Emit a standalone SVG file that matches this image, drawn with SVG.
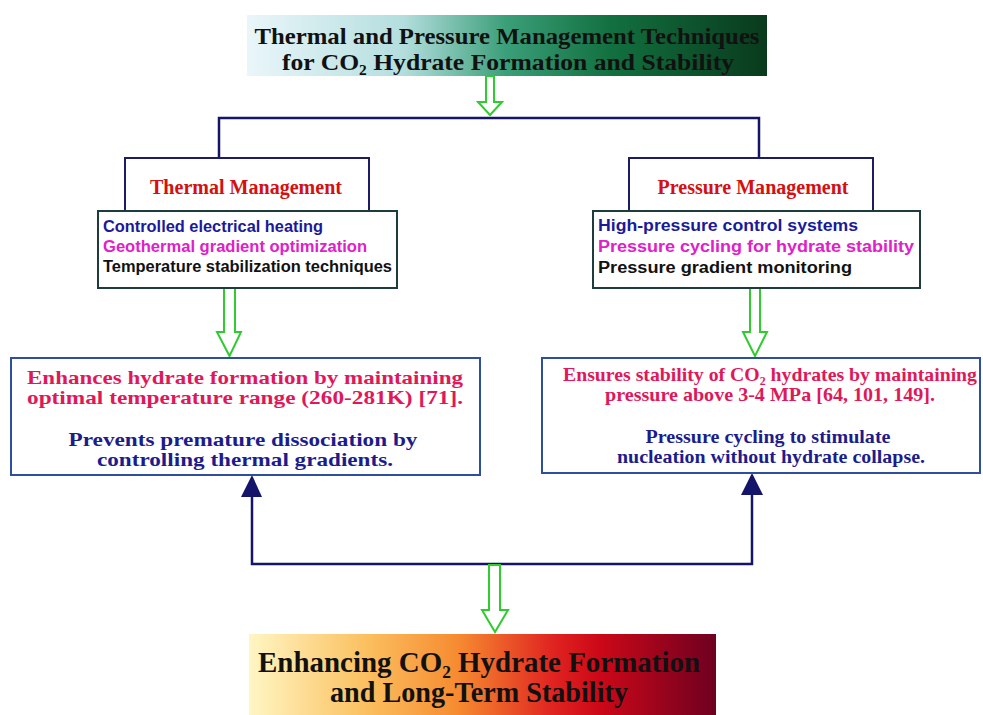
<svg xmlns="http://www.w3.org/2000/svg" width="983" height="715" viewBox="0 0 983 715">
<defs>
<linearGradient id="gTop" x1="0" y1="0" x2="1" y2="0">
<stop offset="0" stop-color="#eaf6fa"/>
<stop offset="0.3" stop-color="#b4dede"/>
<stop offset="0.5" stop-color="#3a9e78"/>
<stop offset="0.7" stop-color="#127040"/>
<stop offset="1" stop-color="#093a1c"/>
</linearGradient>
<linearGradient id="gBot" x1="0" y1="0" x2="1" y2="0">
<stop offset="0" stop-color="#fff6c4"/>
<stop offset="0.25" stop-color="#fbc060"/>
<stop offset="0.45" stop-color="#f68a30"/>
<stop offset="0.65" stop-color="#e02420"/>
<stop offset="0.75" stop-color="#cc0818"/>
<stop offset="1" stop-color="#6e0020"/>
</linearGradient>
<style>
.serif{font-family:"Liberation Serif","Times New Roman",serif;font-weight:bold}
.sans{font-family:"Liberation Sans",Arial,sans-serif;font-weight:bold;font-size:16px}
.title{font-size:24px;fill:#111}
.head{font-size:20px;fill:#d41010}
.body{font-size:19.5px}
.bottom{font-size:29px;fill:#111}
.blue{fill:#1a1a9a}
.mag{fill:#e020c8}
.blk{fill:#111}
.crim{fill:#e0185a}
.navy{fill:#1c1c8c}
.hdrbox{fill:#fff;stroke:#1c1c66;stroke-width:2}
.listbox{fill:#fff;stroke:#1e3c3c;stroke-width:2}
.bigbox{fill:#fff;stroke:#2d4f9e;stroke-width:2}
.line{fill:none;stroke:#14146a;stroke-width:2.5}
.head-tri{fill:#14146a}
.garrow{fill:#fff;stroke:#2ecc2e;stroke-width:2;stroke-linejoin:miter}
</style>
</defs>
<rect width="983" height="715" fill="#fff"/>

<g id="connectors">
<path class="line" d="M219,158 V118 H759 V158"/>
<path class="garrow" d="M486,76 H494 V102 H502 L490,115 L478,102 H486 Z"/>
<path class="garrow" d="M224,288 H235 V332 H241 L229.5,356 L217,332 H224 Z"/>
<path class="garrow" d="M750,288 H760 V332 H767 L755,356 L743,332 H750 Z"/>
<path class="line" d="M252,495 V564 H752 V493"/>
<path class="head-tri" d="M252,475 L262,497 L241,497 Z"/>
<path class="head-tri" d="M752,473 L763,495 L741,495 Z"/>
<path class="garrow" d="M489,565 H500 V610 H508 L495,632 L482,610 H489 Z"/>
</g>

<g id="title">
<rect x="247" y="15" width="520" height="61" fill="url(#gTop)"/>
<text class="serif title" x="507" y="44" text-anchor="middle" textLength="505" lengthAdjust="spacingAndGlyphs">Thermal and Pressure Management Techniques</text>
<text class="serif title" x="508" y="70" text-anchor="middle" textLength="452" lengthAdjust="spacingAndGlyphs">for CO₂ Hydrate Formation and Stability</text>
</g>

<g id="thermal-management">
<rect class="hdrbox" x="125" y="158" width="244" height="54"/>
<text class="serif head" x="246" y="194" text-anchor="middle" textLength="192" lengthAdjust="spacingAndGlyphs">Thermal Management</text>
</g>

<g id="thermal-list">
<rect class="listbox" x="98" y="211" width="299" height="77"/>
<text class="sans blue" x="103" y="232" textLength="220" lengthAdjust="spacingAndGlyphs">Controlled electrical heating</text>
<text class="sans mag" x="103" y="252" textLength="264" lengthAdjust="spacingAndGlyphs">Geothermal gradient optimization</text>
<text class="sans blk" x="103" y="272" textLength="289" lengthAdjust="spacingAndGlyphs">Temperature stabilization techniques</text>
</g>

<g id="pressure-management">
<rect class="hdrbox" x="629" y="158" width="244" height="54"/>
<text class="serif head" x="753" y="194" text-anchor="middle" textLength="191" lengthAdjust="spacingAndGlyphs">Pressure Management</text>
</g>

<g id="pressure-list">
<rect class="listbox" x="593" y="211" width="327" height="77"/>
<text class="sans blue" x="598" y="231" textLength="260" lengthAdjust="spacingAndGlyphs">High-pressure control systems</text>
<text class="sans mag" x="598" y="252" textLength="316" lengthAdjust="spacingAndGlyphs">Pressure cycling for hydrate stability</text>
<text class="sans blk" x="598" y="273" textLength="254" lengthAdjust="spacingAndGlyphs">Pressure gradient monitoring</text>
</g>

<g id="thermal-effects">
<rect class="bigbox" x="11" y="358" width="469" height="117"/>
<text class="serif body crim" x="245" y="384" text-anchor="middle" textLength="436" lengthAdjust="spacingAndGlyphs">Enhances hydrate formation by maintaining</text>
<text class="serif body crim" x="245" y="404" text-anchor="middle" textLength="436" lengthAdjust="spacingAndGlyphs">optimal temperature range (260-281K) [71].</text>
<text class="serif body navy" x="243" y="446" text-anchor="middle" textLength="349" lengthAdjust="spacingAndGlyphs">Prevents premature dissociation by</text>
<text class="serif body navy" x="245" y="466" text-anchor="middle" textLength="296" lengthAdjust="spacingAndGlyphs">controlling thermal gradients.</text>
</g>

<g id="pressure-effects">
<rect class="bigbox" x="542" y="358" width="438" height="115"/>
<text class="serif body crim" x="770" y="381" text-anchor="middle" textLength="414" lengthAdjust="spacingAndGlyphs">Ensures stability of CO₂ hydrates by maintaining</text>
<text class="serif body crim" x="770" y="401" text-anchor="middle" textLength="330" lengthAdjust="spacingAndGlyphs">pressure above 3-4 MPa [64, 101, 149].</text>
<text class="serif body navy" x="768" y="443" text-anchor="middle" textLength="245" lengthAdjust="spacingAndGlyphs">Pressure cycling to stimulate</text>
<text class="serif body navy" x="771" y="463" text-anchor="middle" textLength="308" lengthAdjust="spacingAndGlyphs">nucleation without hydrate collapse.</text>
</g>

<g id="outcome">
<rect x="249" y="634" width="467" height="81" fill="url(#gBot)"/>
<text class="serif bottom" x="479" y="672" text-anchor="middle" textLength="442" lengthAdjust="spacingAndGlyphs">Enhancing CO₂ Hydrate Formation</text>
<text class="serif bottom" x="479" y="702" text-anchor="middle" textLength="298" lengthAdjust="spacingAndGlyphs">and Long-Term Stability</text>
</g>
</svg>
